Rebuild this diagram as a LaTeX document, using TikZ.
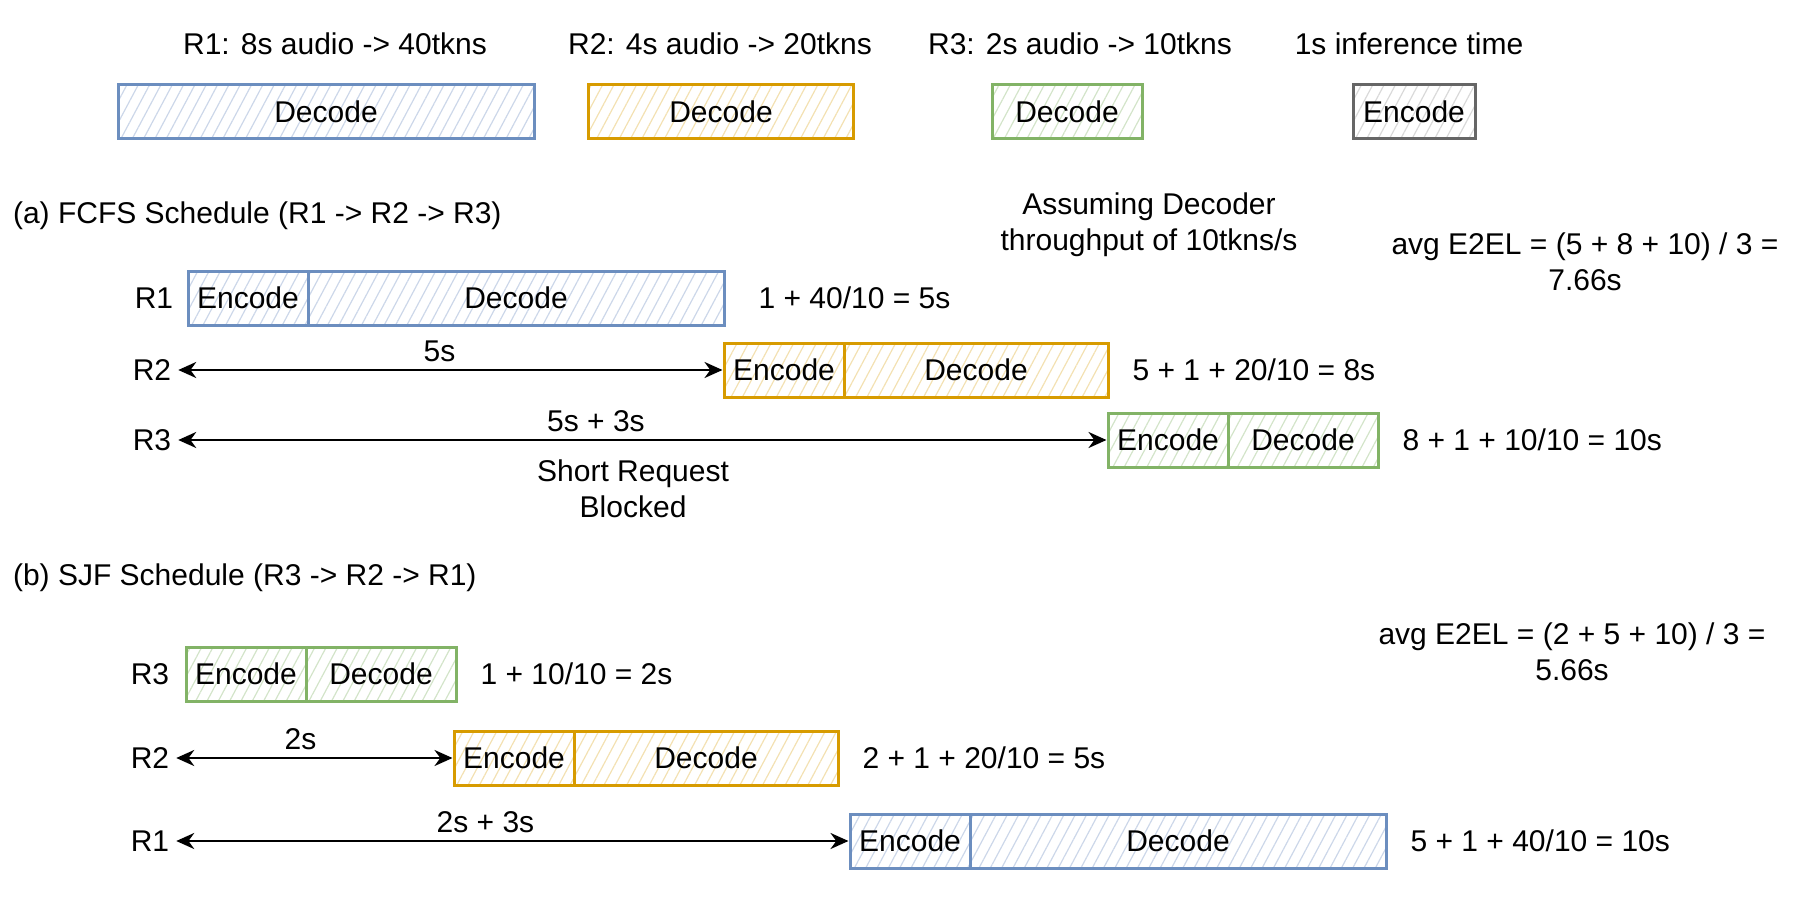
\documentclass[tikz,border=0pt]{standalone}
\usepackage{fontspec}
\setmainfont{Liberation Sans}
\usetikzlibrary{arrows.meta, positioning, patterns.meta}
\definecolor{reqblue}{HTML}{6C8EBF}
\definecolor{reqorange}{HTML}{D79B00}
\definecolor{reqgreen}{HTML}{82B366}
\definecolor{encgray}{HTML}{666666}

\tikzset{
  txt/.style={font=\fontsize{15}{18}\selectfont},
  slot/.style={draw, line width=1.5pt, minimum height=27pt, inner sep=0pt},
  hatch/.style={pattern={Lines[angle=62,distance=5pt,line width=0.6pt]}, pattern color=#1},
  blueslot/.style={slot, draw=reqblue, hatch=reqblue!35},
  orangeslot/.style={slot, draw=reqorange, hatch=reqorange!30},
  greenslot/.style={slot, draw=reqgreen, hatch=reqgreen!35},
  grayslot/.style={slot, draw=encgray, hatch=encgray!25},
  encslot/.style={minimum width=60pt},
  wait/.style={{Stealth[length=9pt,width=8pt]}-{Stealth[length=9pt,width=8pt]}, line width=1.4pt}
}

\begin{document}
\begin{tikzpicture}[x=0.5pt, y=-0.5pt, every node/.style={txt}]
  \useasboundingbox (0,0) rectangle (1810,920);

  % Legend
  \node at (335,44) {R1: 8s audio -> 40tkns};
  \node at (720,44) {R2: 4s audio -> 20tkns};
  \node at (1080,44) {R3: 2s audio -> 10tkns};
  \node at (1409,44) {1s inference time};
  \node[blueslot, minimum width=208pt] (legR1) at (326,112) {Decode};
  \node[orangeslot, minimum width=132.5pt] (legR2) at (721,112) {Decode};
  \node[greenslot, minimum width=75pt] (legR3) at (1067,112) {Decode};
  \node[grayslot, minimum width=61pt] (legEnc) at (1414,112) {Encode};

  % (a) FCFS schedule
  \node[anchor=west] (titleA) at (6,216) {(a) FCFS Schedule (R1 -> R2 -> R3)};
  \node[align=center] (noteA) at (1149,225) {Assuming Decoder\\throughput of 10tkns/s};
  \node[align=center] (avgA) at (1585,262) {avg E2EL = (5 + 8 + 10) / 3 =\\7.66s};

  \node (rowA1) at (154,298) {R1};
  \node[blueslot, encslot] (encA1) at (248,298) {Encode};
  \node[blueslot, minimum width=208pt, right=-1.5pt of encA1] (decA1) {Decode};
  \node[right=13pt of decA1] (sumA1) {1 + 40/10 = 5s};

  \node (rowA2) at (152,370) {R2};
  \node[orangeslot, encslot] (encA2) at (784,370) {Encode};
  \node[orangeslot, minimum width=132pt, right=-1.5pt of encA2] (decA2) {Decode};
  \node[right=8pt of decA2] (sumA2) {5 + 1 + 20/10 = 8s};
  \draw[wait] (rowA2.east) -- (encA2.west) node[pos=0.48, above] {5s};

  \node (rowA3) at (152,440) {R3};
  \node[greenslot, encslot] (encA3) at (1168,440) {Encode};
  \node[greenslot, minimum width=75pt, right=-1.5pt of encA3] (decA3) {Decode};
  \node[right=8pt of decA3] (sumA3) {8 + 1 + 10/10 = 10s};
  \draw[wait] (rowA3.east) -- (encA3.west)
    node[pos=0.45, above] {5s + 3s}
    node[pos=0.49, below=6pt, align=center] {Short Request\\Blocked};

  % (b) SJF schedule
  \node[anchor=west] (titleB) at (6,578) {(b) SJF Schedule (R3 -> R2 -> R1)};
  \node[align=center] (avgB) at (1572,652) {avg E2EL = (2 + 5 + 10) / 3 =\\5.66s};

  \node (rowB3) at (150,674) {R3};
  \node[greenslot, encslot] (encB3) at (246,674) {Encode};
  \node[greenslot, minimum width=75pt, right=-1.5pt of encB3] (decB3) {Decode};
  \node[right=8pt of decB3] (sumB3) {1 + 10/10 = 2s};

  \node (rowB2) at (150,758) {R2};
  \node[orangeslot, encslot] (encB2) at (514,758) {Encode};
  \node[orangeslot, minimum width=132pt, right=-1.5pt of encB2] (decB2) {Decode};
  \node[right=8pt of decB2] (sumB2) {2 + 1 + 20/10 = 5s};
  \draw[wait] (rowB2.east) -- (encB2.west) node[pos=0.45, above] {2s};

  \node (rowB1) at (150,841) {R1};
  \node[blueslot, encslot] (encB1) at (910,841) {Encode};
  \node[blueslot, minimum width=208pt, right=-1.5pt of encB1] (decB1) {Decode};
  \node[right=8pt of decB1] (sumB1) {5 + 1 + 40/10 = 10s};
  \draw[wait] (rowB1.east) -- (encB1.west) node[pos=0.46, above] {2s + 3s};

\end{tikzpicture}
\end{document}
